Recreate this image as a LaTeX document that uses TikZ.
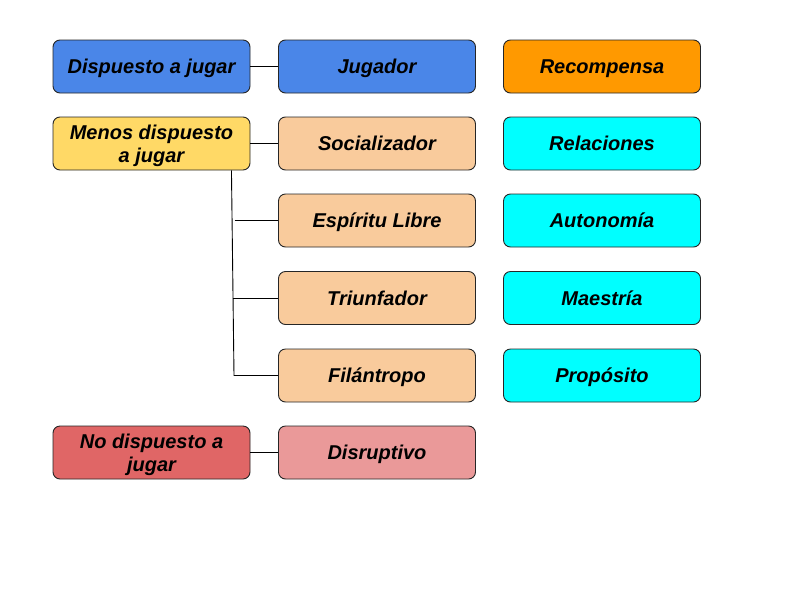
\documentclass[tikz,border=0pt]{standalone}
\usepackage{fontspec}
\setmainfont{Liberation Sans}
\begin{document}
\begin{tikzpicture}[x=1pt,y=-1pt,
  box/.style={draw=black!85, line width=0.9pt, rounded corners=7pt, minimum width=197pt, minimum height=53pt,
    inner sep=0pt, align=center, text depth=0pt, font=\fontsize{20}{23.4}\selectfont\bfseries\itshape},
  one/.style={box, text height=14.3pt},
  link/.style={draw=black, line width=0.9pt}]
\definecolor{cblue}{HTML}{4A86E8}
\definecolor{corange}{HTML}{FF9900}
\definecolor{cyellow}{HTML}{FFD966}
\definecolor{cpeach}{HTML}{F9CB9C}
\definecolor{ccyan}{HTML}{00FFFF}
\definecolor{cred}{HTML}{E06666}
\definecolor{cpink}{HTML}{EA9999}
\useasboundingbox (0,0) rectangle (800,600);
\fill[white] (0,0) rectangle (800,600);
% left column
\node[one, fill=cblue] (disp) at (151.5,66.5) {Dispuesto a jugar};
\node[box, fill=cyellow] (menos) at (151.5,143.5) {Menos dispuesto\\a jugar};
\node[box, fill=cred] (nodisp) at (151.5,452.5) {No dispuesto a\\jugar};
% middle column
\node[one, fill=cblue] (jug) at (377,66.5) {Jugador};
\node[one, fill=cpeach] (soc) at (377,143.5) {Socializador};
\node[one, fill=cpeach] (esp) at (377,220.5) {Espíritu Libre};
\node[one, fill=cpeach] (tri) at (377,298) {Triunfador};
\node[one, fill=cpeach] (fil) at (377,375.5) {Filántropo};
\node[one, fill=cpink] (dis) at (377,452.5) {Disruptivo};
% right column
\node[one, fill=corange] (rec) at (602,66.5) {Recompensa};
\node[one, fill=ccyan] (rel) at (602,143.5) {Relaciones};
\node[one, fill=ccyan] (aut) at (602,220.5) {Autonomía};
\node[one, fill=ccyan] (mae) at (602,298) {Maestría};
\node[one, fill=ccyan] (pro) at (602,375.5) {Propósito};
% connectors
\draw[link] (disp.east) -- (jug.west);
\draw[link] (menos.east) -- (soc.west);
\draw[link] (nodisp.east) -- (dis.west);
\coordinate (vtop) at ([xshift=-19pt]menos.south east);
\coordinate (vbot) at (234,375.5);
\draw[link] (vtop) -- (vbot) -- (fil.west);
\coordinate (ve) at (234.5,220.5);
\coordinate (vt) at (232.5,298);
\draw[link] (ve) -- (esp.west);
\draw[link] (vt) -- (tri.west);
\end{tikzpicture}
\end{document}
